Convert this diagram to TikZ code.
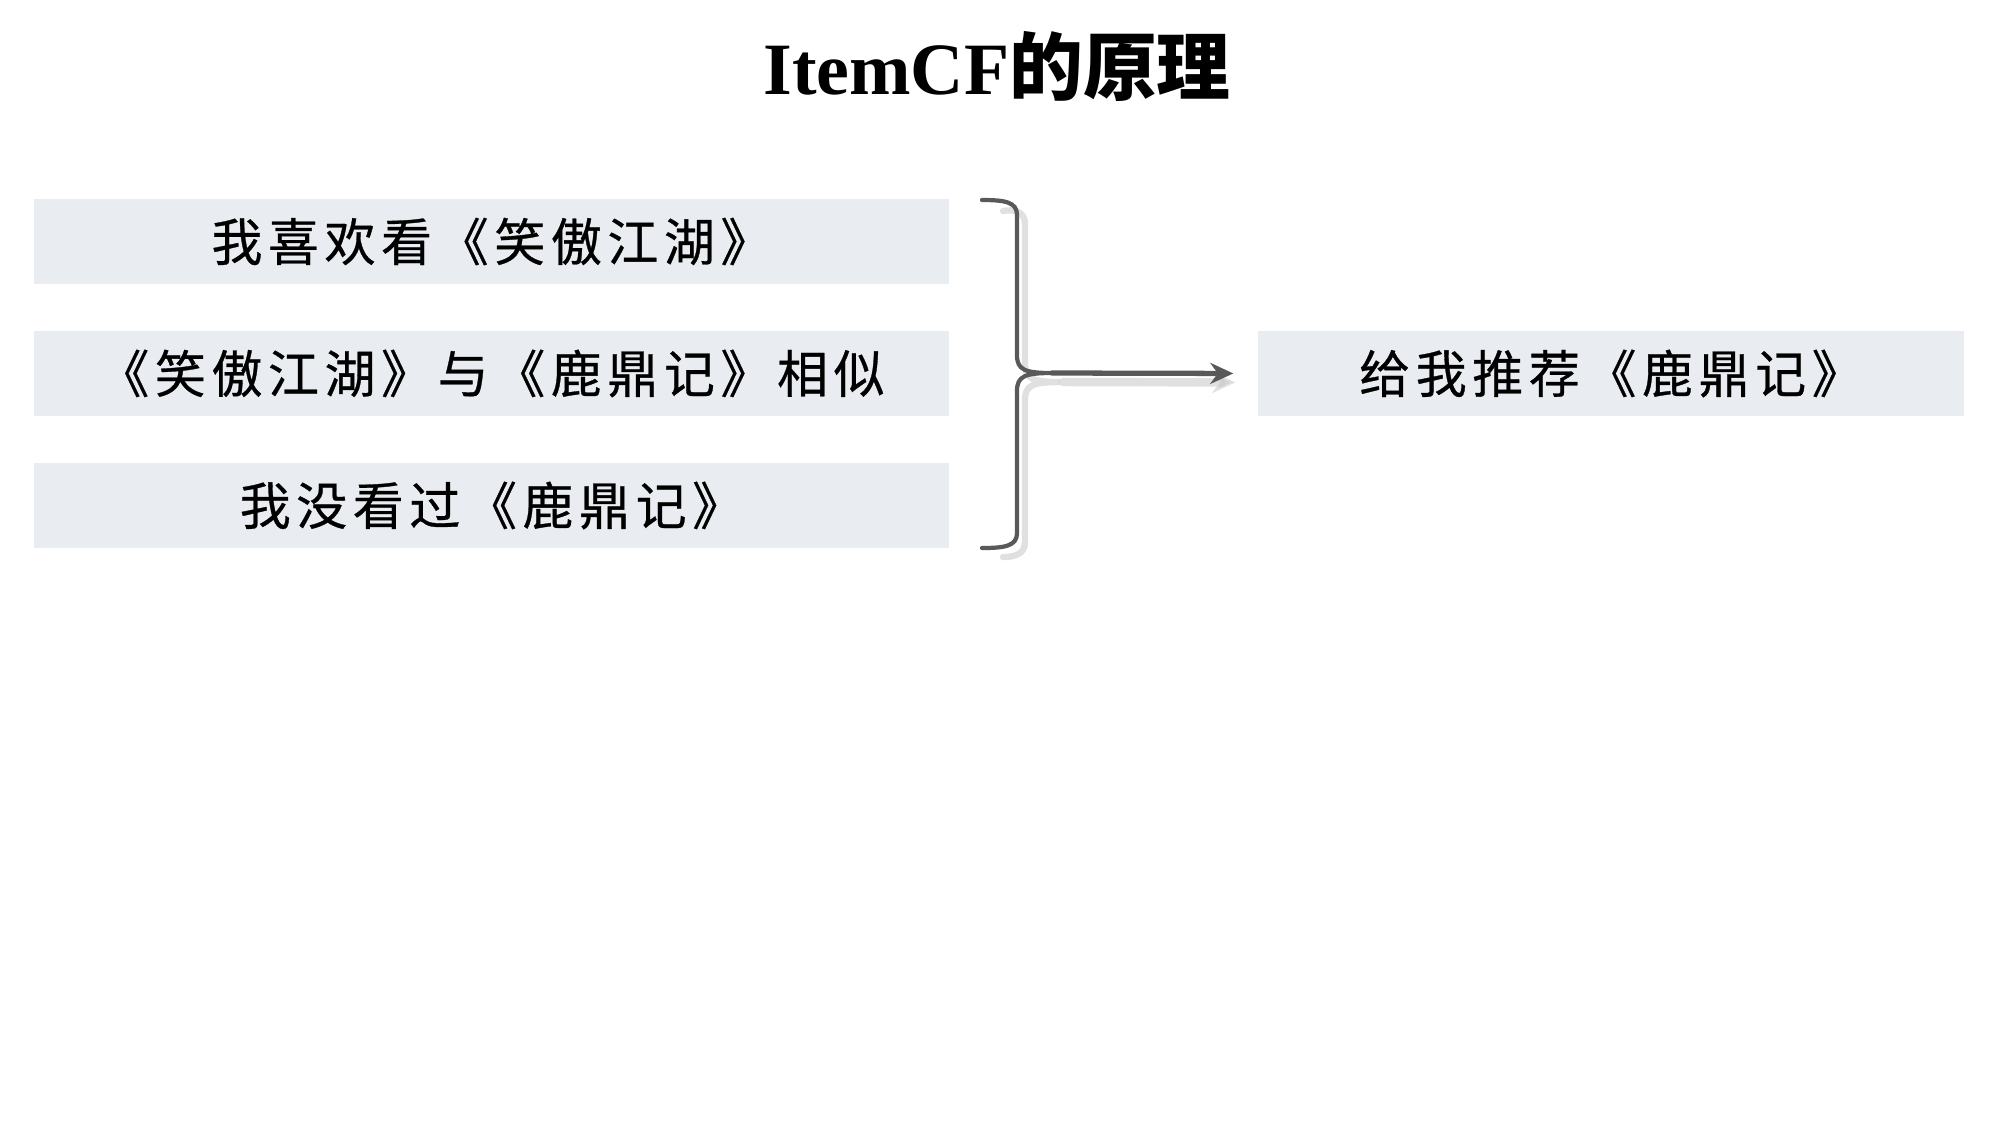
\documentclass[tikz,border=0pt]{standalone}
\usepackage{fontspec}
\setmainfont{Liberation Serif}
\newfontfamily\cjk[LetterSpace=11, FakeBold=0.6]{Noto Sans CJK SC}
\newfontfamily\cjkhead{Noto Sans CJK SC}
\usetikzlibrary{arrows.meta}
\definecolor{boxgray}{HTML}{E9ECF0}
\definecolor{bracegray}{HTML}{595959}

\begin{document}
\begin{tikzpicture}[
  item/.style={fill=boxgray, minimum height=0.85cm, inner sep=0pt, font=\cjk\fontsize{14.5}{16}\selectfont},
  braceline/.style={draw=bracegray, line width=1.2pt, line cap=round},
  shadowline/.style={draw=black!20, line width=1.8pt, opacity=0.6, line cap=round}]
  \useasboundingbox (0,0) rectangle (20,-11.25);
  \node[font=\bfseries\fontsize{21}{25}\selectfont] (title) at (9.97,-0.66) {ItemCF{\cjkhead 的原理}};
  \node[item, minimum width=9.15cm] (like) at (4.915,-2.415) {我喜欢看《笑傲江湖》};
  \node[item, minimum width=9.15cm] (sim) at (4.915,-3.735) {《笑傲江湖》与《鹿鼎记》相似};
  \node[item, minimum width=9.15cm] (unseen) at (4.915,-5.055) {我没看过《鹿鼎记》};
  \node[item, minimum width=7.06cm] (rec) at (16.11,-3.735) {给我推荐《鹿鼎记》};
  \coordinate (tip) at (10.52,-3.73);
  \draw[shadowline, xshift=0.8mm, yshift=-0.9mm] (9.95,-2.02) .. controls (10.05,-2.00) and (10.17,-2.02) .. (10.17,-2.15) -- (10.17,-3.55) .. controls (10.17,-3.70) and (10.25,-3.73) .. (10.52,-3.73) .. controls (10.25,-3.73) and (10.17,-3.76) .. (10.17,-3.91) -- (10.17,-5.33) .. controls (10.17,-5.46) and (10.05,-5.48) .. (9.95,-5.48);
  \draw[shadowline, line width=2.4pt, -{Stealth[length=2.3mm, width=2.1mm]}, shorten >=2.2mm] ([shift={(0.11,-0.09)}]tip) -- ([yshift=-0.9mm]rec.west);
  \draw[braceline] (9.82,-2.00) .. controls (10.05,-2.00) and (10.17,-2.02) .. (10.17,-2.15) -- (10.17,-3.55) .. controls (10.17,-3.70) and (10.25,-3.73) .. (tip) .. controls (10.25,-3.73) and (10.17,-3.76) .. (10.17,-3.91) -- (10.17,-5.33) .. controls (10.17,-5.46) and (10.05,-5.48) .. (9.82,-5.48);
  \draw[braceline, line width=1.5pt, -{Stealth[length=2.3mm, width=2.1mm]}, shorten >=2.4mm] (tip) -- (rec.west);
\end{tikzpicture}
\end{document}
